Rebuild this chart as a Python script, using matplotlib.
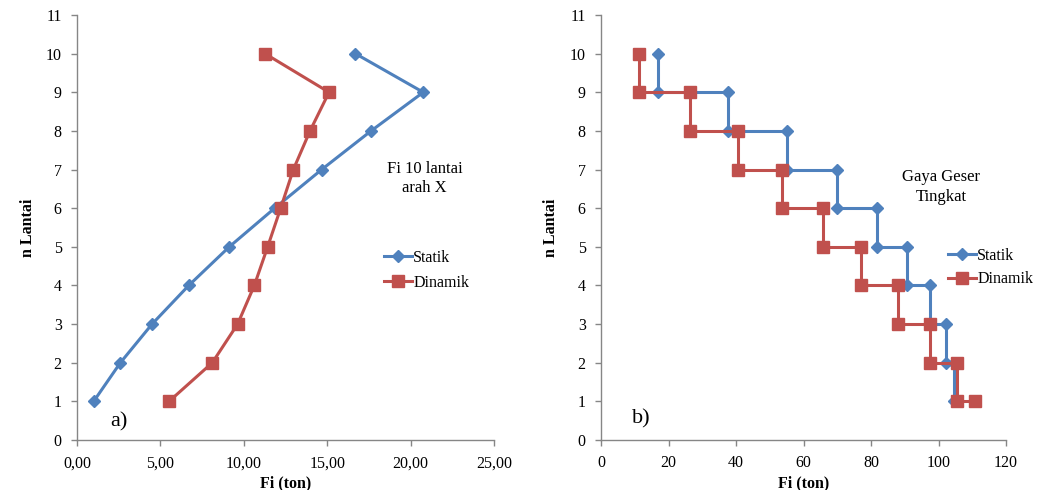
import matplotlib
matplotlib.use('Agg')
import matplotlib.pyplot as plt
from matplotlib.ticker import FuncFormatter

plt.rcParams['font.family'] = ['Liberation Serif', 'DejaVu Serif']

# data
lantai = [1, 2, 3, 4, 5, 6, 7, 8, 9, 10]
fi_statik = [1.0, 2.6, 4.5, 6.7, 9.13, 11.85, 14.67, 17.63, 20.76, 16.69]
fi_dinamik = [5.52, 8.11, 9.63, 10.63, 11.43, 12.21, 12.97, 13.97, 15.11, 11.27]

# gaya geser tingkat (lantai 10 -> 1)
lantai_turun = [10, 9, 8, 7, 6, 5, 4, 3, 2, 1]
v_statik = [16.8, 37.6, 55.1, 69.9, 81.7, 90.7, 97.6, 102.2, 104.6, 105.6]
v_dinamik = [11.3, 26.5, 40.5, 53.5, 65.7, 77.0, 87.9, 97.4, 105.6, 110.8]

biru = '#4F81BD'
merah = '#C0504D'
abu = '#868686'


def tangga(v, lt):
    # titik sudut grafik tangga
    xs, ys = [v[0]], [lt[0]]
    for i in range(1, len(v)):
        xs += [v[i - 1], v[i]]
        ys += [lt[i], lt[i]]
    return xs, ys


def gaya_sumbu(ax, ylab_x):
    for s in ['top', 'right']:
        ax.spines[s].set_visible(False)
    for s in ['left', 'bottom']:
        ax.spines[s].set_color(abu)
        ax.spines[s].set_linewidth(1.0)
    ax.tick_params(colors=abu, labelcolor='black', labelsize=11.5, length=4, width=1.0, pad=7)
    ax.set_ylim(0, 11)
    ax.set_yticks(range(0, 12))
    ax.set_ylabel('n Lantai', fontsize=11.5, fontweight='bold')
    ax.set_xlabel('Fi (ton)', fontsize=11.5, fontweight='bold')
    ax.yaxis.set_label_coords(ylab_x, 0.5)
    ax.xaxis.set_label_coords(0.5, -0.083)


fig = plt.figure(figsize=(10.57, 4.9), dpi=100)
ax1 = fig.add_axes([77 / 1057, 50 / 490, 417 / 1057, 425 / 490])
ax2 = fig.add_axes([601 / 1057, 50 / 490, 405 / 1057, 425 / 490])

# a) Fi
ax1.plot(fi_statik, lantai, color=biru, lw=2.2, marker='D', ms=6, label='Statik')
ax1.plot(fi_dinamik, lantai, color=merah, lw=2.2, marker='s', ms=8, label='Dinamik')
ax1.set_xlim(0, 25)
ax1.set_xticks([0, 5, 10, 15, 20, 25])
ax1.xaxis.set_major_formatter(FuncFormatter(lambda v, p: ('%.2f' % v).replace('.', ',')))
gaya_sumbu(ax1, -0.098)
ax1.text(0.834, 0.615, 'Fi 10 lantai\narah X', transform=ax1.transAxes,
         ha='center', va='center', fontsize=12, linespacing=1.3)
ax1.text(0.08, 0.043, 'a)', transform=ax1.transAxes, fontsize=16, va='center')
ax1.legend(loc='upper left', bbox_to_anchor=(0.72, 0.462), frameon=False, fontsize=11.5,
           handlelength=1.8, handletextpad=0.05, borderaxespad=0, labelspacing=0.55)

# b) gaya geser
xs, ys = tangga(v_statik, lantai_turun)
ax2.plot(xs, ys, color=biru, lw=2.2, marker='D', ms=6, label='Statik')
xs, ys = tangga(v_dinamik, lantai_turun)
ax2.plot(xs, ys, color=merah, lw=2.2, marker='s', ms=8, label='Dinamik')
ax2.set_xlim(0, 120)
ax2.set_xticks(range(0, 121, 20))
gaya_sumbu(ax2, -0.103)
ax2.text(0.84, 0.595, 'Gaya Geser\nTingkat', transform=ax2.transAxes,
         ha='center', va='center', fontsize=12, linespacing=1.3)
ax2.text(0.077, 0.05, 'b)', transform=ax2.transAxes, fontsize=16, va='center')
ax2.legend(loc='upper left', bbox_to_anchor=(0.84, 0.467), frameon=False, fontsize=11.5,
           handlelength=1.8, handletextpad=0.05, borderaxespad=0, labelspacing=0.45)

fig.savefig('out.png', dpi=100, facecolor='white')
